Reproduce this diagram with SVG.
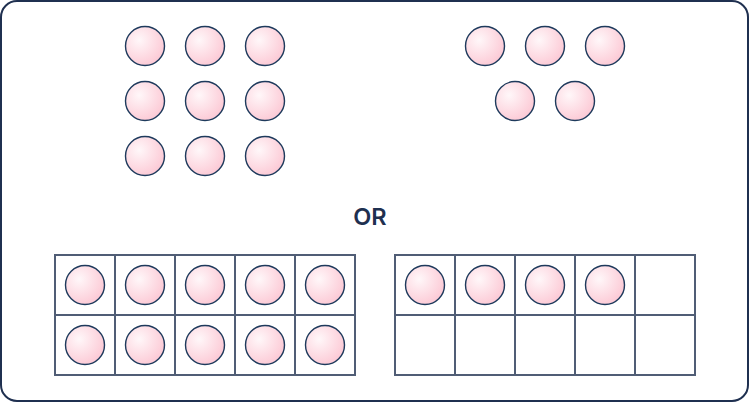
<svg xmlns="http://www.w3.org/2000/svg" width="749" height="402" viewBox="0 0 749 402">
<defs>
<radialGradient id="g" cx="0.35" cy="0.35" r="0.7">
<stop offset="0" stop-color="#fff7f9"/>
<stop offset="1" stop-color="#fcc9d5"/>
</radialGradient>
<style>
.c{fill:url(#g);stroke:#1e3a5c;stroke-width:1.4}
.grid{fill:none;stroke:#505d75;stroke-width:2}
.t{font-family:"Inter","Liberation Sans",sans-serif;font-weight:600;font-size:23.5px;fill:#1f3050}
</style>
</defs>
<rect x="1" y="1" width="747" height="400" rx="16" fill="#fff" stroke="#1f3050" stroke-width="2"/>
<g id="group-9">
<circle class="c" cx="145" cy="46" r="19.5"/><circle class="c" cx="205" cy="46" r="19.5"/><circle class="c" cx="265" cy="46" r="19.5"/>
<circle class="c" cx="145" cy="101" r="19.5"/><circle class="c" cx="205" cy="101" r="19.5"/><circle class="c" cx="265" cy="101" r="19.5"/>
<circle class="c" cx="145" cy="156" r="19.5"/><circle class="c" cx="205" cy="156" r="19.5"/><circle class="c" cx="265" cy="156" r="19.5"/>
</g>
<g id="group-5">
<circle class="c" cx="485" cy="46" r="19.5"/><circle class="c" cx="545" cy="46" r="19.5"/><circle class="c" cx="605" cy="46" r="19.5"/>
<circle class="c" cx="515" cy="101" r="19.5"/><circle class="c" cx="575" cy="101" r="19.5"/>
</g>
<g id="or"><text class="t" x="370" y="224.5" text-anchor="middle">OR</text></g>
<g id="frame-left">
<path class="grid" d="M55 255H355V375H55Z M55 315H355 M115 255V375 M175 255V375 M235 255V375 M295 255V375"/>
<circle class="c" cx="85" cy="285" r="19.5"/><circle class="c" cx="145" cy="285" r="19.5"/><circle class="c" cx="205" cy="285" r="19.5"/><circle class="c" cx="265" cy="285" r="19.5"/><circle class="c" cx="325" cy="285" r="19.5"/>
<circle class="c" cx="85" cy="345" r="19.5"/><circle class="c" cx="145" cy="345" r="19.5"/><circle class="c" cx="205" cy="345" r="19.5"/><circle class="c" cx="265" cy="345" r="19.5"/><circle class="c" cx="325" cy="345" r="19.5"/>
</g>
<g id="frame-right">
<path class="grid" d="M395 255H695V375H395Z M395 315H695 M455 255V375 M515 255V375 M575 255V375 M635 255V375"/>
<circle class="c" cx="425" cy="285" r="19.5"/><circle class="c" cx="485" cy="285" r="19.5"/><circle class="c" cx="545" cy="285" r="19.5"/><circle class="c" cx="605" cy="285" r="19.5"/>
</g>
<g id="connectors"/>
</svg>
